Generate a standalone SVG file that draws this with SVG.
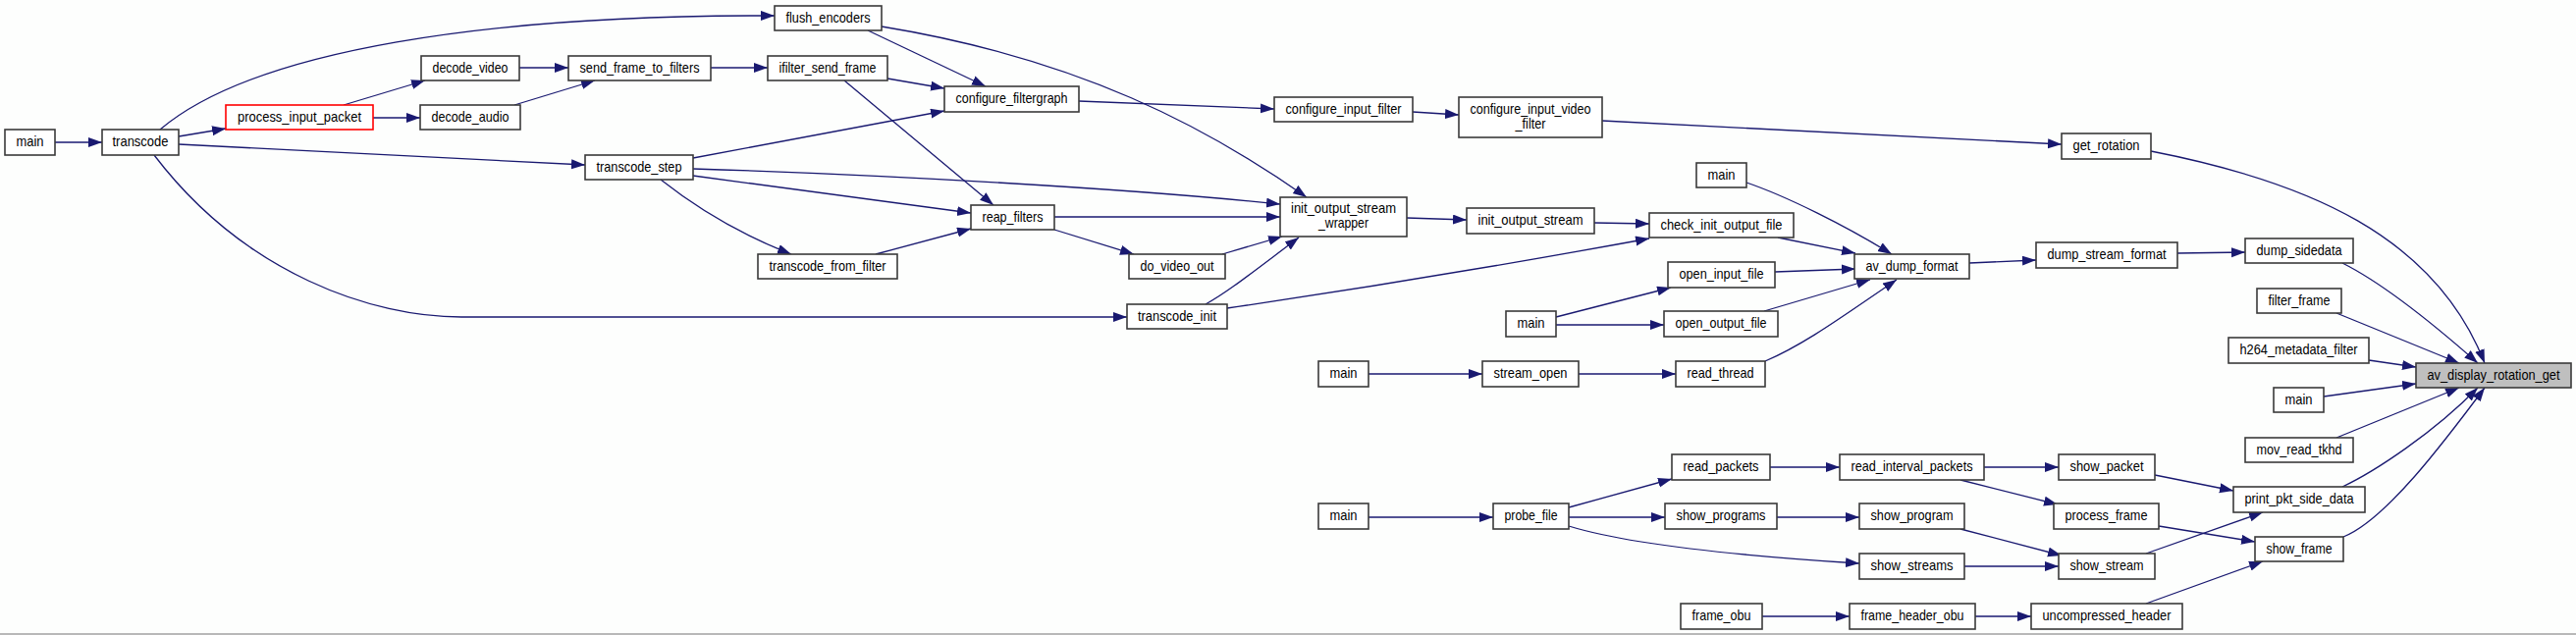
<svg xmlns="http://www.w3.org/2000/svg" width="2624" height="647" viewBox="0 0 2624 647">
<style>
.n rect{fill:#ffffff;stroke:#3a3a3a;stroke-width:1.6}
.n text{font-family:"Liberation Sans",Arial,sans-serif;font-size:15px;fill:#000;text-anchor:middle}
.red rect{stroke:#ff0000}
.cur rect{fill:#bfbfbf}
.cur text{font-size:14px}
.e path{fill:none;stroke:#191970;stroke-width:1.3;marker-end:url(#ah)}
</style>
<defs>
<marker id="ah" markerUnits="userSpaceOnUse" markerWidth="15" markerHeight="11" refX="14" refY="5" orient="auto">
<path d="M0,0 L14,5 L0,10 z" fill="#191970"/>
</marker>
</defs>
<rect x="0" y="0" width="2624" height="647" fill="#fdfefd"/>
<line x1="0" y1="646" x2="2624" y2="646" stroke="#a0a0a0" stroke-width="1.5"/>
<g id="edges" class="e">
<path d="M56,145 L104,145"/>
<path d="M182,139 L230,131"/>
<path d="M350,107 L433,82"/>
<path d="M380,120 L428,120"/>
<path d="M529,69 L579,69"/>
<path d="M524,107 L606,82"/>
<path d="M163,132 C260,50 500,15 789,16"/>
<path d="M182,147 L596,168"/>
<path d="M157,158 C250,280 380,323 470,323 L1148,323"/>
<path d="M724,69 L782,69"/>
<path d="M904,80 L962,90"/>
<path d="M884,31 L1004,88"/>
<path d="M898,27 C1100,60 1230,130 1331,201"/>
<path d="M860,82 L1012,209"/>
<path d="M1099,103 L1298,111"/>
<path d="M706,161 L962,113"/>
<path d="M706,172 C900,178 1150,192 1304,208"/>
<path d="M706,179 L989,217"/>
<path d="M673,183 C720,220 770,245 806,259"/>
<path d="M892,259 L989,233"/>
<path d="M1074,221 L1304,221"/>
<path d="M1074,234 L1155,259"/>
<path d="M1245,259 L1306,241"/>
<path d="M1228,310 C1250,298 1275,278 1323,242"/>
<path d="M1250,314 C1400,292 1560,265 1680,243"/>
<path d="M1433,222 L1494,224"/>
<path d="M1624,227 L1680,228"/>
<path d="M1439,114 L1486,117"/>
<path d="M1632,123 L2100,147"/>
<path d="M1779,186 C1820,200 1880,230 1927,259"/>
<path d="M1811,242 L1890,258"/>
<path d="M1808,277 L1890,274"/>
<path d="M1585,323 L1702,293"/>
<path d="M1585,331 L1695,331"/>
<path d="M1797,317 L1905,285"/>
<path d="M1798,368 C1840,350 1880,320 1932,285"/>
<path d="M1394,381 L1510,381"/>
<path d="M1608,381 L1707,381"/>
<path d="M2006,268 L2074,265"/>
<path d="M2218,258 L2287,257"/>
<path d="M2191,154 C2350,185 2480,240 2531,370"/>
<path d="M2386,268 C2430,290 2490,340 2524,370"/>
<path d="M2380,319 L2505,370"/>
<path d="M2413,367 L2461,374"/>
<path d="M2367,404 L2461,391"/>
<path d="M2380,446 L2505,395"/>
<path d="M2386,496 C2420,480 2480,440 2524,395"/>
<path d="M2387,547 C2430,530 2490,450 2531,395"/>
<path d="M1394,527 L1521,527"/>
<path d="M1598,517 L1703,488"/>
<path d="M1598,527 L1696,527"/>
<path d="M1598,536 C1650,552 1750,565 1894,574"/>
<path d="M1803,476 L1874,476"/>
<path d="M1810,527 L1894,527"/>
<path d="M2021,476 L2097,476"/>
<path d="M1997,489 L2096,514"/>
<path d="M2195,484 L2275,500"/>
<path d="M2199,536 L2297,552"/>
<path d="M1997,539 L2100,566"/>
<path d="M2001,577 L2097,577"/>
<path d="M2186,564 L2305,522"/>
<path d="M1795,628 L1884,628"/>
<path d="M2012,628 L2069,628"/>
<path d="M2186,615 L2305,572"/>
</g>
<g id="n_main1" class="n"><rect x="5" y="132" width="51" height="26"/><text x="30.5" y="149" textLength="28" lengthAdjust="spacingAndGlyphs">main</text></g>
<g id="n_transcode" class="n"><rect x="104" y="132" width="78" height="26"/><text x="143" y="149" textLength="57" lengthAdjust="spacingAndGlyphs">transcode</text></g>
<g id="n_process_input_packet" class="n red"><rect x="230" y="107" width="150" height="25"/><text x="305" y="124" textLength="126" lengthAdjust="spacingAndGlyphs">process_input_packet</text></g>
<g id="n_decode_video" class="n"><rect x="429" y="57" width="100" height="25"/><text x="479" y="74" textLength="77" lengthAdjust="spacingAndGlyphs">decode_video</text></g>
<g id="n_decode_audio" class="n"><rect x="428" y="107" width="102" height="25"/><text x="479" y="124" textLength="79" lengthAdjust="spacingAndGlyphs">decode_audio</text></g>
<g id="n_send_frame_to_filters" class="n"><rect x="579" y="57" width="145" height="25"/><text x="651.5" y="74" textLength="122" lengthAdjust="spacingAndGlyphs">send_frame_to_filters</text></g>
<g id="n_flush_encoders" class="n"><rect x="789" y="6" width="109" height="25"/><text x="843.5" y="23" textLength="86" lengthAdjust="spacingAndGlyphs">flush_encoders</text></g>
<g id="n_ifilter_send_frame" class="n"><rect x="782" y="57" width="122" height="25"/><text x="843" y="74" textLength="99" lengthAdjust="spacingAndGlyphs">ifilter_send_frame</text></g>
<g id="n_configure_filtergraph" class="n"><rect x="962" y="88" width="137" height="26"/><text x="1030.5" y="105" textLength="114" lengthAdjust="spacingAndGlyphs">configure_filtergraph</text></g>
<g id="n_transcode_step" class="n"><rect x="596" y="158" width="110" height="25"/><text x="651" y="175" textLength="87" lengthAdjust="spacingAndGlyphs">transcode_step</text></g>
<g id="n_reap_filters" class="n"><rect x="989" y="209" width="85" height="25"/><text x="1031.5" y="226" textLength="62" lengthAdjust="spacingAndGlyphs">reap_filters</text></g>
<g id="n_transcode_from_filter" class="n"><rect x="772" y="259" width="142" height="25"/><text x="843" y="276" textLength="119" lengthAdjust="spacingAndGlyphs">transcode_from_filter</text></g>
<g id="n_do_video_out" class="n"><rect x="1150" y="259" width="98" height="25"/><text x="1199" y="276" textLength="75" lengthAdjust="spacingAndGlyphs">do_video_out</text></g>
<g id="n_transcode_init" class="n"><rect x="1148" y="310" width="102" height="25"/><text x="1199" y="327" textLength="80" lengthAdjust="spacingAndGlyphs">transcode_init</text></g>
<g id="n_init_output_stream_wrapper" class="n"><rect x="1304" y="201" width="129" height="40"/><text x="1368.5" y="217" textLength="107" lengthAdjust="spacingAndGlyphs">init_output_stream</text><text x="1368.5" y="232" textLength="51" lengthAdjust="spacingAndGlyphs">_wrapper</text></g>
<g id="n_configure_input_filter" class="n"><rect x="1298" y="99" width="141" height="25"/><text x="1368.5" y="116" textLength="118" lengthAdjust="spacingAndGlyphs">configure_input_filter</text></g>
<g id="n_configure_input_video_filter" class="n"><rect x="1486" y="99" width="146" height="41"/><text x="1559" y="116" textLength="123" lengthAdjust="spacingAndGlyphs">configure_input_video</text><text x="1559" y="131" textLength="31" lengthAdjust="spacingAndGlyphs">_filter</text></g>
<g id="n_init_output_stream" class="n"><rect x="1494" y="212" width="130" height="26"/><text x="1559" y="229" textLength="107" lengthAdjust="spacingAndGlyphs">init_output_stream</text></g>
<g id="n_check_init_output_file" class="n"><rect x="1680" y="217" width="147" height="25"/><text x="1753.5" y="234" textLength="124" lengthAdjust="spacingAndGlyphs">check_init_output_file</text></g>
<g id="n_main2" class="n"><rect x="1728" y="166" width="51" height="25"/><text x="1753.5" y="183" textLength="28" lengthAdjust="spacingAndGlyphs">main</text></g>
<g id="n_open_input_file" class="n"><rect x="1699" y="267" width="109" height="26"/><text x="1753.5" y="284" textLength="86" lengthAdjust="spacingAndGlyphs">open_input_file</text></g>
<g id="n_av_dump_format" class="n"><rect x="1889" y="259" width="117" height="25"/><text x="1947.5" y="276" textLength="94" lengthAdjust="spacingAndGlyphs">av_dump_format</text></g>
<g id="n_main3" class="n"><rect x="1534" y="317" width="51" height="26"/><text x="1559.5" y="334" textLength="28" lengthAdjust="spacingAndGlyphs">main</text></g>
<g id="n_open_output_file" class="n"><rect x="1695" y="317" width="116" height="26"/><text x="1753" y="334" textLength="93" lengthAdjust="spacingAndGlyphs">open_output_file</text></g>
<g id="n_main4" class="n"><rect x="1343" y="368" width="51" height="26"/><text x="1368.5" y="385" textLength="28" lengthAdjust="spacingAndGlyphs">main</text></g>
<g id="n_stream_open" class="n"><rect x="1510" y="368" width="98" height="26"/><text x="1559" y="385" textLength="75" lengthAdjust="spacingAndGlyphs">stream_open</text></g>
<g id="n_read_thread" class="n"><rect x="1707" y="368" width="91" height="26"/><text x="1752.5" y="385" textLength="68" lengthAdjust="spacingAndGlyphs">read_thread</text></g>
<g id="n_get_rotation" class="n"><rect x="2100" y="136" width="91" height="26"/><text x="2145.5" y="153" textLength="68" lengthAdjust="spacingAndGlyphs">get_rotation</text></g>
<g id="n_dump_stream_format" class="n"><rect x="2074" y="247" width="144" height="26"/><text x="2146" y="264" textLength="121" lengthAdjust="spacingAndGlyphs">dump_stream_format</text></g>
<g id="n_dump_sidedata" class="n"><rect x="2287" y="243" width="110" height="25"/><text x="2342" y="260" textLength="87" lengthAdjust="spacingAndGlyphs">dump_sidedata</text></g>
<g id="n_filter_frame" class="n"><rect x="2299" y="294" width="86" height="25"/><text x="2342" y="311" textLength="63" lengthAdjust="spacingAndGlyphs">filter_frame</text></g>
<g id="n_h264_metadata_filter" class="n"><rect x="2270" y="344" width="143" height="26"/><text x="2341.5" y="361" textLength="120" lengthAdjust="spacingAndGlyphs">h264_metadata_filter</text></g>
<g id="n_av_display_rotation_get" class="n cur"><rect x="2461" y="370" width="158" height="25"/><text x="2540" y="387" textLength="135" lengthAdjust="spacingAndGlyphs">av_display_rotation_get</text></g>
<g id="n_main5" class="n"><rect x="2316" y="395" width="51" height="25"/><text x="2341.5" y="412" textLength="28" lengthAdjust="spacingAndGlyphs">main</text></g>
<g id="n_mov_read_tkhd" class="n"><rect x="2287" y="446" width="110" height="25"/><text x="2342" y="463" textLength="87" lengthAdjust="spacingAndGlyphs">mov_read_tkhd</text></g>
<g id="n_print_pkt_side_data" class="n"><rect x="2275" y="496" width="134" height="26"/><text x="2342" y="513" textLength="111" lengthAdjust="spacingAndGlyphs">print_pkt_side_data</text></g>
<g id="n_show_frame" class="n"><rect x="2297" y="547" width="90" height="25"/><text x="2342" y="564" textLength="67" lengthAdjust="spacingAndGlyphs">show_frame</text></g>
<g id="n_main6" class="n"><rect x="1343" y="513" width="51" height="26"/><text x="1368.5" y="530" textLength="28" lengthAdjust="spacingAndGlyphs">main</text></g>
<g id="n_probe_file" class="n"><rect x="1521" y="513" width="77" height="26"/><text x="1559.5" y="530" textLength="54" lengthAdjust="spacingAndGlyphs">probe_file</text></g>
<g id="n_read_packets" class="n"><rect x="1703" y="463" width="100" height="26"/><text x="1753" y="480" textLength="77" lengthAdjust="spacingAndGlyphs">read_packets</text></g>
<g id="n_show_programs" class="n"><rect x="1696" y="513" width="114" height="26"/><text x="1753" y="530" textLength="91" lengthAdjust="spacingAndGlyphs">show_programs</text></g>
<g id="n_read_interval_packets" class="n"><rect x="1874" y="463" width="147" height="26"/><text x="1947.5" y="480" textLength="124" lengthAdjust="spacingAndGlyphs">read_interval_packets</text></g>
<g id="n_show_packet" class="n"><rect x="2097" y="463" width="98" height="26"/><text x="2146" y="480" textLength="75" lengthAdjust="spacingAndGlyphs">show_packet</text></g>
<g id="n_process_frame" class="n"><rect x="2092" y="513" width="107" height="26"/><text x="2145.5" y="530" textLength="84" lengthAdjust="spacingAndGlyphs">process_frame</text></g>
<g id="n_show_program" class="n"><rect x="1894" y="513" width="107" height="26"/><text x="1947.5" y="530" textLength="84" lengthAdjust="spacingAndGlyphs">show_program</text></g>
<g id="n_show_streams" class="n"><rect x="1894" y="564" width="107" height="26"/><text x="1947.5" y="581" textLength="84" lengthAdjust="spacingAndGlyphs">show_streams</text></g>
<g id="n_show_stream" class="n"><rect x="2097" y="564" width="98" height="26"/><text x="2146" y="581" textLength="75" lengthAdjust="spacingAndGlyphs">show_stream</text></g>
<g id="n_frame_obu" class="n"><rect x="1712" y="615" width="83" height="26"/><text x="1753.5" y="632" textLength="60" lengthAdjust="spacingAndGlyphs">frame_obu</text></g>
<g id="n_frame_header_obu" class="n"><rect x="1884" y="615" width="128" height="26"/><text x="1948" y="632" textLength="105" lengthAdjust="spacingAndGlyphs">frame_header_obu</text></g>
<g id="n_uncompressed_header" class="n"><rect x="2069" y="615" width="154" height="26"/><text x="2146" y="632" textLength="131" lengthAdjust="spacingAndGlyphs">uncompressed_header</text></g>
</svg>
